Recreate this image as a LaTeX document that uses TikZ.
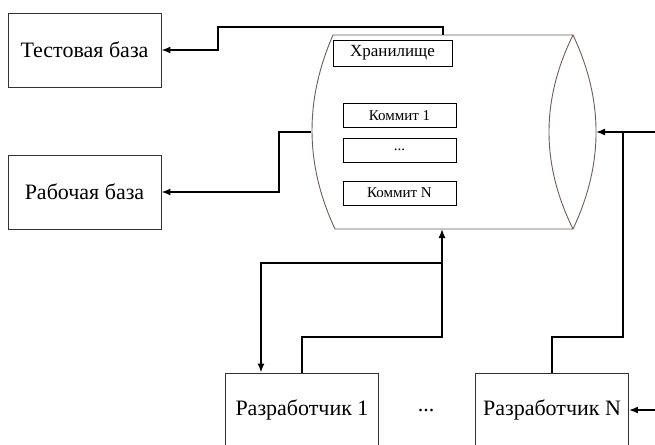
\documentclass[tikz,border=0pt]{standalone}
\usepackage{fontspec}
\setmainfont{Liberation Serif}
\usetikzlibrary{arrows.meta}
\definecolor{cylcol}{HTML}{6B5E58}
\definecolor{boxcol}{HTML}{333333}
\tikzset{
  outerbox/.style={draw=boxcol, line width=0.9pt, minimum width=153pt, minimum height=74pt, inner sep=0pt, font=\fontsize{22}{24}\selectfont},
  innerbox/.style={draw=black, line width=0.9pt, minimum width=113pt, minimum height=24pt, inner sep=0pt, font=\fontsize{15}{17}\selectfont},
  conn/.style={draw=black, line width=1.5pt},
  arr/.style={conn, -{Latex[length=9pt,width=7pt]}},
  cyl/.style={draw=cylcol, line width=0.9pt}
}
\begin{document}
\begin{tikzpicture}[x=1pt,y=-1pt]
\useasboundingbox (0,0) rectangle (655,444);
\fill[white] (0,0) rectangle (655,444);
\begin{scope}
\clip (0,0) rectangle (655,444);
% outer boxes
\node[outerbox] (test) at (84.5,50) {Тестовая база};
\node[outerbox] (work) at (84.5,192) {Рабочая база};
\node[outerbox] (dev1) at (302,410) {Разработчик 1};
\node[outerbox] (devN) at (552,410) {Разработчик N};
\node[font=\fontsize{22}{24}\selectfont] (dots) at (426,411) {...};
% cylinder
\draw[cyl] (333,35) -- (573,35)
  .. controls (541,100) and (541,164) .. (573,229)
  -- (335,229)
  .. controls (304.7,164) and (304.7,100) .. (333,35);
\draw[cyl] (573,35) .. controls (603.7,100) and (603.7,164) .. (573,229);
\coordinate (cylT) at (443,35);
\coordinate (cylB) at (442,229);
\coordinate (cylL) at (311,132);
\coordinate (cylR) at (596,132);
\coordinate (edgeR) at (655,132);
\coordinate (edgeN) at (655,410);
% inner boxes
\node[innerbox, minimum width=119pt, minimum height=26pt, font=\fontsize{17}{19}\selectfont] (stor) at (392.5,53) {Хранилище};
\node[innerbox] (c1) at (399.5,115.5) {Коммит 1};
\node[innerbox] (cd) at (399.5,150) {...};
\node[innerbox] (cN) at (399.5,193) {Коммит N};
% connectors
\draw[arr] (cylT) -- (443,27) -| (218,50) -- (test.east);
\draw[arr] (cylL) -- (279,132) |- (work.east);
\draw[arr] (dev1.north -| 302,0) |- (442,337) -- (cylB);
\draw[arr] (442,263) -| (dev1.north -| 261,0);
\draw[arr] (devN.north) |- (623,337) |- (cylR);
\draw[conn] (623,132) -- (edgeR);
\draw[arr] (edgeN) -- (devN.east);
\end{scope}
\end{tikzpicture}
\end{document}
